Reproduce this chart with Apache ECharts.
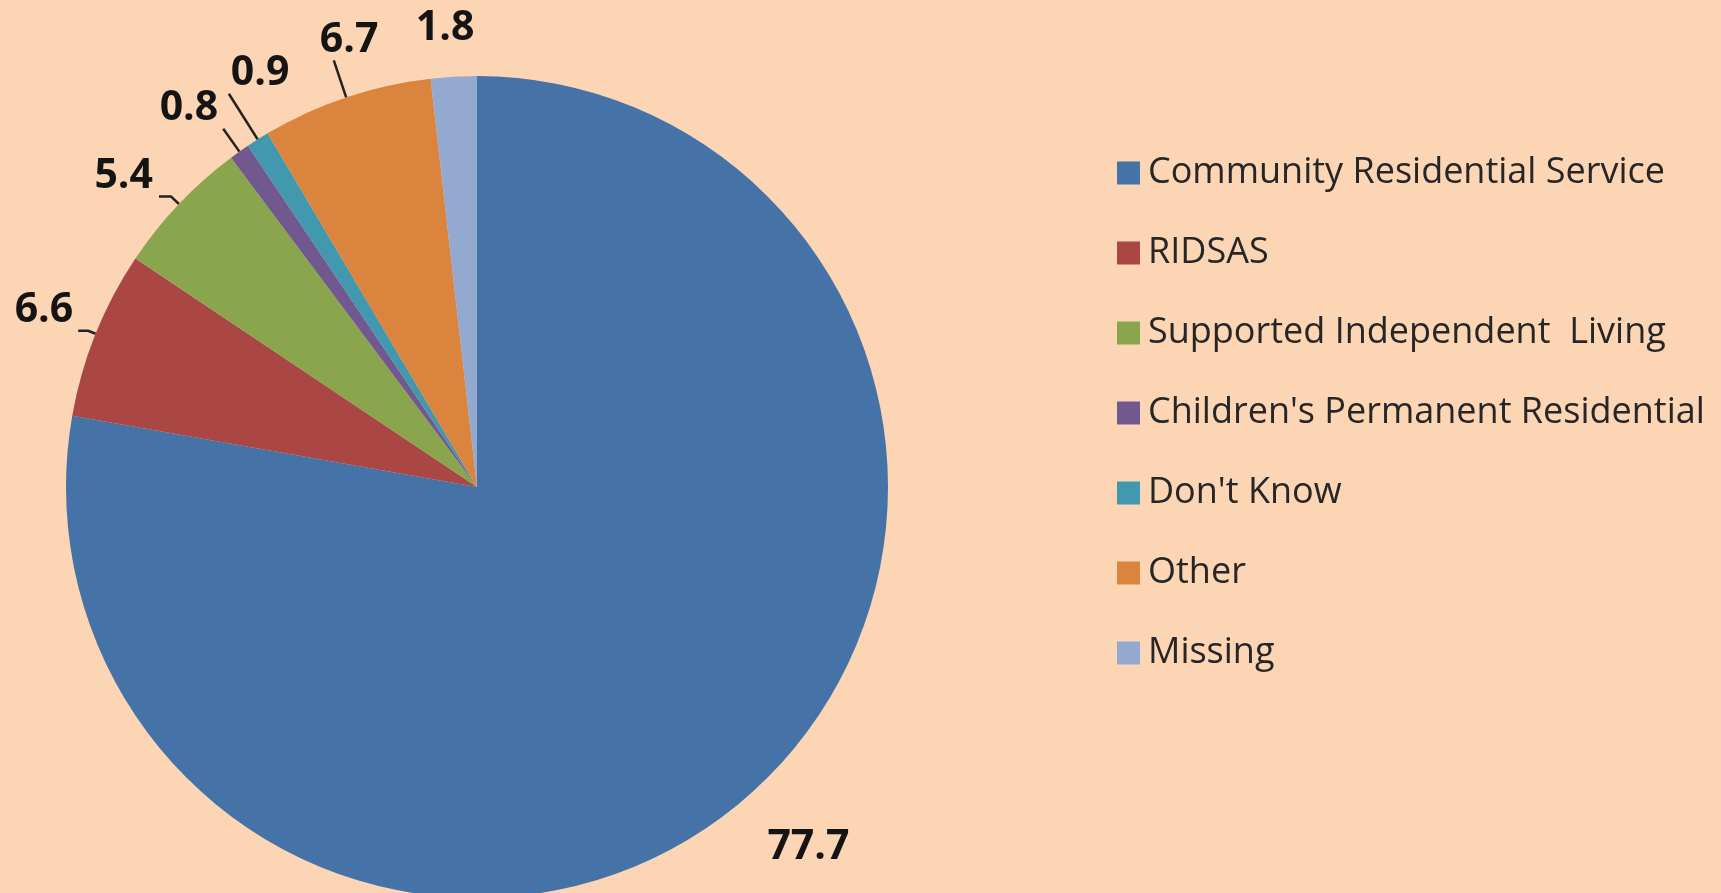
<!DOCTYPE html>
<html>
<head>
<meta charset="utf-8">
<script src="https://cdn.jsdelivr.net/npm/echarts@6/dist/echarts.min.js"></script>
<style>
  html, body { margin: 0; padding: 0; background: #FCD5B5; }
  #chart { width: 1721px; height: 893px; }
</style>
</head>
<body>
<div id="chart"></div>
<script>
// ---- data ----
const categories = [
  'Community Residential Service',
  'RIDSAS',
  'Supported Independent  Living',
  "Children's Permanent Residential",
  "Don't Know",
  'Other',
  'Missing'
];
const values = [77.7, 6.6, 5.4, 0.8, 0.9, 6.7, 1.8];

// ---- styles ----
const colors = ['#4572A7', '#AA4643', '#89A54E', '#71588F', '#4198AF', '#DB843D', '#93A9CF'];
// per-slice label styling (leader lengths, alignment)
const labelStyles = [
  { len: 33, len2: 0, dist: 5, align: 'left',  vAlign: 'top',    line: false },
  { len: 8, len2: 10, dist: 5, align: 'right', vAlign: 'bottom', line: true },
  { len: 11, len2: 12, dist: 6, align: 'right', vAlign: 'bottom', line: true },
  { len: 28, len2: 0, dist: 5, align: 'right', vAlign: 'bottom', line: true },
  { len: 54, len2: 0, dist: -2, align: 'left',  vAlign: 'bottom', line: true },
  { len: 39, len2: 0, dist: 14, align: 'left', vAlign: 'bottom', line: true },
  { len: 28, len2: 0, dist: 7, align: 'center', vAlign: 'bottom', line: false }
];

const seriesData = categories.map((name, i) => ({
  name: name,
  value: values[i],
  itemStyle: { color: colors[i] },
  label: { distanceToLabelLine: labelStyles[i].dist },
  labelLine: { show: labelStyles[i].line, length: labelStyles[i].len, length2: labelStyles[i].len2 }
}));

const chart = echarts.init(document.getElementById('chart'), null, { renderer: 'canvas' });
chart.setOption({
  backgroundColor: '#FCD5B5',
  animation: false,
  legend: {
    orient: 'vertical',
    left: 1112,
    top: 148,
    icon: 'rect',
    itemWidth: 23,
    itemHeight: 23,
    itemGap: 40,
    selectedMode: false,
    data: categories,
    textStyle: {
      fontFamily: 'Open Sans',
      fontSize: 36,
      lineHeight: 40,
      color: '#262626',
      padding: [0, 0, 0, 3]
    }
  },
  series: [{
    type: 'pie',
    center: [477, 487],
    radius: 411,
    startAngle: 90,
    clockwise: true,
    avoidLabelOverlap: false,
    itemStyle: { borderWidth: 0 },
    emphasis: { disabled: true },
    label: {
      show: true,
      position: 'outside',
      formatter: p => p.value.toFixed(1),
      fontFamily: 'Open Sans',
      fontWeight: 'bold',
      fontSize: 41,
      color: '#141414'
    },
    labelLine: {
      lineStyle: { color: '#222222', width: 2.5 }
    },
    labelLayout: function (params) {
      const s = labelStyles[params.dataIndex];
      return { align: s.align, verticalAlign: s.vAlign };
    },
    data: seriesData
  }]
});
</script>
</body>
</html>
